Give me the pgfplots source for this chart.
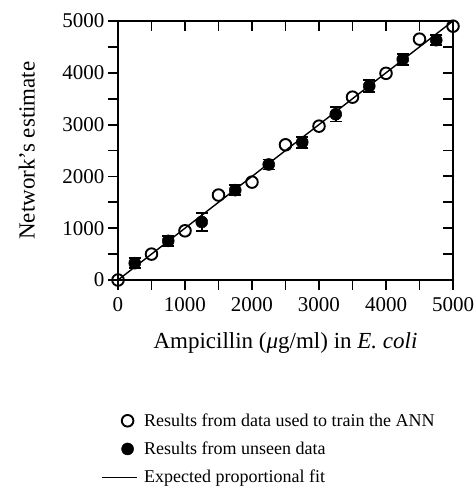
\documentclass[border=0pt]{standalone}
\usepackage{fontspec}
\setmainfont{Liberation Serif}
\usepackage{pgfplots}
\pgfplotsset{compat=1.18}

\begin{document}
\begin{tikzpicture}
\useasboundingbox (-118pt,-215pt) rectangle (357pt,280pt);
\pgfplotsset{
  frame/.style={
    scale only axis, width=335pt, height=259pt,
    xmin=0, xmax=5000, ymin=0, ymax=5000,
    xtick={0,1000,...,5000}, ytick={0,1000,...,5000},
    minor xtick={500,1500,...,4500}, minor ytick={500,1500,...,4500},
    major tick length=10pt, minor tick length=10pt,
    every tick/.style={line width=1.8pt, black},
    axis line style={line width=2.6pt},
    scaled ticks=false,
    /pgf/number format/1000 sep={},
    /pgf/number format/assume math mode=true,
  },
  markimg/.style={legend image code/.code={\draw[##1] plot coordinates {(0pt,0pt)};}},
  lineimg/.style={legend image code/.code={\draw[##1] (-26pt,0pt) -- (9pt,0pt);}},
}
\begin{axis}[frame,
  tick align=outside, xtick pos=bottom, ytick pos=left,
  tick label style={font=\fontsize{21}{24}\selectfont},
  xticklabel style={yshift=-4pt},
  yticklabel style={xshift=0pt},
  label style={font=\fontsize{23}{27}\selectfont},
  xlabel={Ampicillin (\textit{μ}g/ml) in \textit{E. coli}},
  ylabel={Network's estimate},
  xlabel style={at={(axis description cs:0.5,-0.245)}, anchor=center},
  ylabel style={at={(axis description cs:-0.272,0.5)}, anchor=center},
  legend style={at={(axis description cs:-0.06,-0.5)}, anchor=north west,
    draw=none, fill=none, font=\fontsize{18}{21}\selectfont,
    row sep=10pt, column sep=5pt},
  legend cell align=left,
]
% expected proportional fit
\addplot[black, line width=1.4pt, forget plot] coordinates {(0,0) (5000,5000)};
% training data
\addplot[only marks, mark=o, mark size=5.8pt, mark options={fill=white, line width=1.9pt}, markimg]
  coordinates {
  (0,0) (500,500) (1000,950) (1500,1640) (2000,1890) (2500,2610)
  (3000,2970) (3500,3530) (4000,3990) (4500,4650) (5000,4900)};
\addlegendentry{Results from data used to train the ANN}
% unseen data
\addplot[only marks, mark=*, mark size=6pt, black, mark options={line width=0.5pt}, markimg,
  error bars/.cd, y dir=both, y explicit,
  error bar style={line width=1.8pt}, error mark options={rotate=90, mark size=6pt, line width=1.8pt}]
  coordinates {
  (250,325) +- (0,95)
  (750,755) +- (0,95)
  (1250,1120) +- (0,180)
  (1750,1735) +- (0,95)
  (2250,2230) +- (0,95)
  (2750,2660) +- (0,105)
  (3250,3200) +- (0,140)
  (3750,3745) +- (0,110)
  (4250,4260) +- (0,110)
  (4750,4630) +- (0,95)};
\addlegendentry{Results from unseen data}
\addlegendimage{black, line width=1pt, lineimg}
\addlegendentry{Expected proportional fit}
\end{axis}
\begin{axis}[frame,
  tick align=inside, xtick pos=top, ytick pos=right,
  xticklabels={}, yticklabels={},
]
\end{axis}
\end{tikzpicture}
\end{document}
